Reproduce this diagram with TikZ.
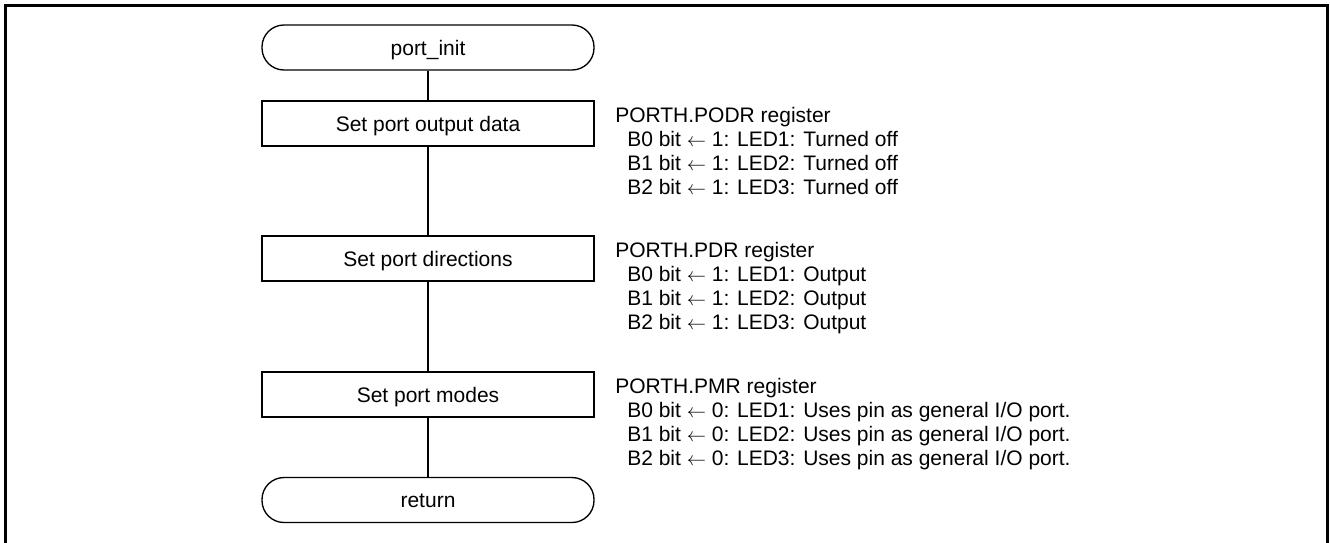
\documentclass[tikz,border=0pt]{standalone}
\usepackage{fontspec}
\setmainfont{Liberation Sans}
\begin{document}
\begin{tikzpicture}[x=0.75pt,y=-0.75pt,
  every node/.style={font=\fontsize{15.75}{18}\selectfont},
  term/.style={draw, line width=1pt, rounded corners=16.5pt, minimum width=249pt, minimum height=33.75pt, inner sep=0pt, text height=11.3pt, text depth=0pt},
  proc/.style={draw, line width=1pt, minimum width=249pt, minimum height=33.75pt, inner sep=0pt, text height=11.3pt, text depth=0pt},
  note/.style={anchor=base west, inner sep=0pt},
  link/.style={line width=1pt}
]
\useasboundingbox (0,0) rectangle (1330,542);
\draw[line width=2pt] (5.5,545) -- (5.5,5.5) -- (1327.5,5.5) -- (1327.5,545);

\node[term] (init) at (428,47.5) {port\_init};
\node[proc] (b1) at (428,123.5) {Set port output data};
\node[proc] (b2) at (428,258.5) {Set port directions};
\node[proc] (b3) at (428,394.5) {Set port modes};
\node[term] (ret) at (428,500) {return};

\draw[link] (init) -- (b1);
\draw[link] (b1) -- (b2);
\draw[link] (b2) -- (b3);
\draw[link] (b3) -- (ret);

\node[note] (n1t) at (615,122) {PORTH.PODR register};
\node[note] (n1a) at (627,146) {B0 bit $\leftarrow$ 1: LED1: Turned off};
\node[note] (n1b) at (627,170) {B1 bit $\leftarrow$ 1: LED2: Turned off};
\node[note] (n1c) at (627,194) {B2 bit $\leftarrow$ 1: LED3: Turned off};

\node[note] (n2t) at (615,257) {PORTH.PDR register};
\node[note] (n2a) at (627,281) {B0 bit $\leftarrow$ 1: LED1: Output};
\node[note] (n2b) at (627,305) {B1 bit $\leftarrow$ 1: LED2: Output};
\node[note] (n2c) at (627,329) {B2 bit $\leftarrow$ 1: LED3: Output};

\node[note] (n3t) at (615,393) {PORTH.PMR register};
\node[note] (n3a) at (627,417) {B0 bit $\leftarrow$ 0: LED1: Uses pin as general I/O port.};
\node[note] (n3b) at (627,441) {B1 bit $\leftarrow$ 0: LED2: Uses pin as general I/O port.};
\node[note] (n3c) at (627,465) {B2 bit $\leftarrow$ 0: LED3: Uses pin as general I/O port.};
\end{tikzpicture}
\end{document}
